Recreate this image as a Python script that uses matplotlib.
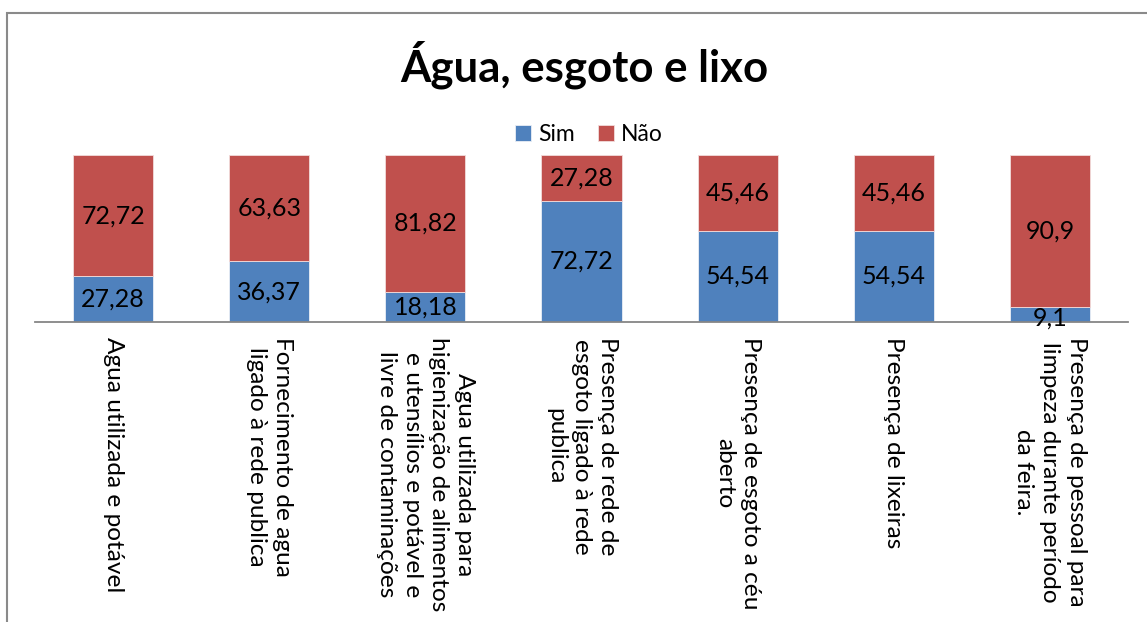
import matplotlib
matplotlib.use("Agg")
import matplotlib.pyplot as plt
from matplotlib.patches import Rectangle

categories = [
    "Agua utilizada e potável",
    "Fornecimento de agua\nligado à rede publica",
    "Agua utilizada para\nhigienização de alimentos\ne utensílios e potável e\nlivre de contaminações",
    "Presença de rede de\nesgoto ligado à rede\npublica",
    "Presença de esgoto a céu\naberto",
    "Presença de lixeiras",
    "Presença de pessoal para\nlimpeza durante período\nda feira.",
]
sim = [27.28, 36.37, 18.18, 72.72, 54.54, 54.54, 9.1]
nao = [72.72, 63.63, 81.82, 27.28, 45.46, 45.46, 90.9]
sim_labels = ["27,28", "36,37", "18,18", "72,72", "54,54", "54,54", "9,1"]
nao_labels = ["72,72", "63,63", "81,82", "27,28", "45,46", "45,46", "90,9"]

FONT = ["Lato", "DejaVu Sans"]
plt.rcParams["font.family"] = FONT

W, H = 1147, 622
fig = plt.figure(figsize=(W / 100, H / 100), dpi=100)
fig.patches.append(Rectangle((7 / W, -0.1), 1.2, 1 - 13 / H + 0.1, transform=fig.transFigure,
                             fill=False, edgecolor="#8a8a8a", lw=1.5, zorder=0))

ax = fig.add_axes([35 / W, 1 - 322 / H, (1128 - 35) / W, (322 - 155) / H])
x = list(range(len(categories)))
blue = "#4F81BD"
red = "#C0504D"
b1 = ax.bar(x, sim, width=0.513, color=blue, edgecolor="#e9eef5", linewidth=0.6, label="Sim")
b2 = ax.bar(x, nao, width=0.513, bottom=sim, color=red, edgecolor="#f2dcdb", linewidth=0.6, label="Não")

LBL = 18
for i in x:
    ys = sim[i] / 2 if sim[i] > 12 else sim[i] / 2 - 2
    ax.text(i, ys, sim_labels[i], ha="center", va="center", fontsize=LBL, color="black")
    ax.text(i, sim[i] + nao[i] / 2, nao_labels[i], ha="center", va="center", fontsize=LBL, color="black")

ax.set_xlim(-0.5, len(categories) - 0.5)
ax.set_ylim(0, 100)
for s in ["top", "right", "left"]:
    ax.spines[s].set_visible(False)
ax.spines["bottom"].set_color("#868686")
ax.spines["bottom"].set_linewidth(1.3)
ax.set_yticks([])
ax.set_xticks(x)
ax.set_xticklabels(categories, rotation=270, ha="center", va="top", multialignment="center",
                   fontsize=17.6, linespacing=1.3)
ax.tick_params(axis="x", length=0, pad=11)

fig.text(584 / W, 1 - 65 / H, "Água, esgoto e lixo", ha="center", va="center",
         fontsize=31.5, fontweight="bold")
fig.legend(handles=[b1, b2], labels=["Sim", "Não"], loc="center",
           bbox_to_anchor=(589 / W, 1 - 135 / H), ncol=2, frameon=False,
           fontsize=16.5, handlelength=0.7, handleheight=0.7, handletextpad=0.3,
           columnspacing=1.0)

fig.savefig("out.png", dpi=100)
